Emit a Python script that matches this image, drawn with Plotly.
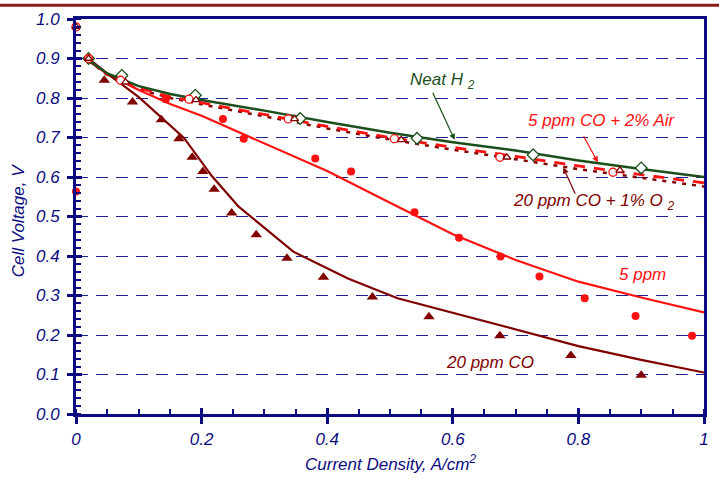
import plotly.graph_objects as go

# ---- model curves (solid / dashed lines) ----
fit_x = [0.02, 0.05, 0.1, 0.15, 0.2, 0.3, 0.4, 0.5, 0.6, 0.7, 0.8, 0.9, 1.0]
neat_h2_fit = [0.895, 0.862, 0.83, 0.81, 0.795, 0.768, 0.739, 0.712, 0.688, 0.667, 0.642, 0.620, 0.600]
co5_air_fit = [0.895, 0.860, 0.825, 0.803, 0.788, 0.758, 0.728, 0.700, 0.675, 0.652, 0.628, 0.606, 0.585]
co20_o2_fit = [0.895, 0.858, 0.822, 0.800, 0.784, 0.754, 0.723, 0.695, 0.669, 0.645, 0.620, 0.598, 0.576]
co5_fit = [0.895, 0.860, 0.820, 0.785, 0.755, 0.685, 0.615, 0.535, 0.455, 0.390, 0.335, 0.295, 0.257]

co20_fit_x = [0.02, 0.05, 0.1, 0.172, 0.216, 0.259, 0.346, 0.433, 0.512, 0.607, 0.7, 0.8, 0.9, 1.0]
co20_fit = [0.900, 0.862, 0.802, 0.699, 0.603, 0.525, 0.411, 0.343, 0.293, 0.253, 0.215, 0.172, 0.137, 0.105]

# ---- measured points ----
neat_h2_x = [0.02, 0.073, 0.19, 0.357, 0.543, 0.728, 0.90]
neat_h2_y = [0.900, 0.857, 0.807, 0.748, 0.698, 0.656, 0.623]

co5_air_x = [0.0, 0.02, 0.071, 0.18, 0.338, 0.507, 0.675, 0.855]
co5_air_y = [0.980, 0.900, 0.845, 0.797, 0.747, 0.697, 0.650, 0.612]

co20_o2_x = [0.0, 0.02, 0.079, 0.191, 0.348, 0.518, 0.686, 0.866]
co20_o2_y = [0.980, 0.900, 0.840, 0.795, 0.747, 0.694, 0.650, 0.617]

co5_x = [0.0, 0.071, 0.143, 0.234, 0.267, 0.381, 0.438, 0.539, 0.61, 0.676, 0.738, 0.81, 0.891, 0.981]
co5_y = [0.563, 0.847, 0.797, 0.747, 0.697, 0.647, 0.614, 0.511, 0.446, 0.399, 0.348, 0.293, 0.248, 0.198]

co20_x = [0.045, 0.09, 0.136, 0.164, 0.185, 0.202, 0.22, 0.248, 0.287, 0.336, 0.394, 0.472, 0.562, 0.675, 0.788, 0.90]
co20_y = [0.845, 0.790, 0.745, 0.697, 0.650, 0.614, 0.569, 0.509, 0.454, 0.394, 0.346, 0.296, 0.246, 0.198, 0.148, 0.098]

x_ticks = [0, 0.2, 0.4, 0.6, 0.8, 1.0]
x_tick_text = ["0", "0.2", "0.4", "0.6", "0.8", "1"]
y_ticks = [0.0, 0.1, 0.2, 0.3, 0.4, 0.5, 0.6, 0.7, 0.8, 0.9, 1.0]
y_tick_text = ["0.0", "0.1", "0.2", "0.3", "0.4", "0.5", "0.6", "0.7", "0.8", "0.9", "1.0"]

NAVY = "#0c0c80"
GREEN = "#1b4f1b"
RED = "#ff1111"
MAROON = "#800000"
FONT = "Liberation Sans, Arial, sans-serif"

fig = go.Figure()

# curves
fig.add_trace(go.Scatter(x=fit_x, y=co20_o2_fit, mode="lines",
                         line=dict(color=MAROON, width=2.5, dash="4px,6px")))
fig.add_trace(go.Scatter(x=fit_x, y=co5_air_fit, mode="lines",
                         line=dict(color=RED, width=2.8, dash="11px,9px")))
fig.add_trace(go.Scatter(x=fit_x, y=co5_fit, mode="lines",
                         line=dict(color=RED, width=2.2)))
fig.add_trace(go.Scatter(x=co20_fit_x, y=co20_fit, mode="lines",
                         line=dict(color=MAROON, width=2.2)))
fig.add_trace(go.Scatter(x=fit_x, y=neat_h2_fit, mode="lines",
                         line=dict(color=GREEN, width=2.5)))

# points
fig.add_trace(go.Scatter(x=co5_x, y=co5_y, mode="markers", cliponaxis=False,
                         marker=dict(symbol="circle", size=8, color=RED)))
fig.add_trace(go.Scatter(x=co20_x, y=co20_y, mode="markers", cliponaxis=False,
                         marker=dict(symbol="triangle-up", size=10, color=MAROON)))
fig.add_trace(go.Scatter(x=neat_h2_x, y=neat_h2_y, mode="markers", cliponaxis=False,
                         marker=dict(symbol="diamond", size=9, color="white",
                                     line=dict(color=GREEN, width=1.3))))
fig.add_trace(go.Scatter(x=co5_air_x, y=co5_air_y, mode="markers", cliponaxis=False,
                         marker=dict(symbol="circle", size=8, color="white",
                                     line=dict(color=RED, width=1.3))))
fig.add_trace(go.Scatter(x=co20_o2_x, y=co20_o2_y, mode="markers", cliponaxis=False,
                         marker=dict(symbol="triangle-up", size=7, color="white",
                                     line=dict(color=MAROON, width=1.3))))

# helper axes carrying the inner half of the major ticks
fig.add_trace(go.Scatter(x=[None], y=[None], xaxis="x2", yaxis="y2", showlegend=False))

tickfont = dict(family=FONT, size=17, color=NAVY, style="italic")

fig.update_layout(
    width=719, height=481,
    margin=dict(l=76, r=10, t=15, b=67),
    paper_bgcolor="white", plot_bgcolor="white",
    showlegend=False,
    xaxis=dict(range=[0, 1], tickvals=x_ticks, ticktext=x_tick_text,
               ticks="outside", ticklen=7, tickwidth=2.5, tickcolor=NAVY,
               showline=True, linecolor=NAVY, linewidth=3, mirror=True,
               showgrid=False, zeroline=False, tickfont=tickfont,
               ticklabelstandoff=1,
               minor=dict(dtick=0.05, ticks="inside", ticklen=5, tickwidth=1.5,
                          tickcolor=NAVY, showgrid=False)),
    yaxis=dict(range=[0, 1], tickvals=y_ticks, ticktext=y_tick_text,
               ticks="outside", ticklen=6, tickwidth=2.5, tickcolor=NAVY,
               showline=True, linecolor=NAVY, linewidth=3, mirror=True,
               showgrid=True, gridcolor="#22228f", gridwidth=1.3,
               griddash="12px,8px", zeroline=False, tickfont=tickfont,
               ticklabelstandoff=4,
               minor=dict(dtick=0.02, ticks="inside", ticklen=5, tickwidth=1.5,
                          tickcolor=NAVY, showgrid=False)),
    xaxis2=dict(range=[0, 1], overlaying="x", anchor="y2", side="bottom",
                tickvals=x_ticks, ticks="inside", ticklen=6, tickwidth=2.5,
                tickcolor=NAVY, showticklabels=False, showgrid=False,
                showline=False, zeroline=False),
    yaxis2=dict(range=[0, 1], overlaying="y", anchor="x2", side="left",
                tickvals=y_ticks, ticks="inside", ticklen=6, tickwidth=2.5,
                tickcolor=NAVY, showticklabels=False, showgrid=False,
                showline=False, zeroline=False),
)

ann_font = dict(family=FONT, size=17, style="italic")

# axis titles
fig.add_annotation(text="Current Density, A/cm<sup>2</sup>", xref="paper", yref="paper",
                   x=0.5, y=-0.123, showarrow=False, xanchor="center", yanchor="middle",
                   font=dict(ann_font, color=NAVY))
fig.add_annotation(text="Cell Voltage, V", xref="paper", yref="paper",
                   x=-0.091, y=0.49, showarrow=False, textangle=-90,
                   xanchor="center", yanchor="middle",
                   font=dict(ann_font, color=NAVY))

# curve labels
fig.add_annotation(text="Neat H <sub>2</sub>", x=0.583, y=0.842, showarrow=False,
                   font=dict(ann_font, color=GREEN))
fig.add_annotation(text="5 ppm CO + 2% Air", x=0.837, y=0.744, showarrow=False,
                   font=dict(ann_font, color=RED))
fig.add_annotation(text="20 ppm CO + 1% O <sub>2</sub>", x=0.825, y=0.536, showarrow=False,
                   font=dict(ann_font, color=MAROON))
fig.add_annotation(text="5 ppm", x=0.902, y=0.353, showarrow=False,
                   font=dict(ann_font, color=RED))
fig.add_annotation(text="20 ppm CO", x=0.660, y=0.130, showarrow=False,
                   font=dict(ann_font, color=MAROON))

# arrows from labels to curves
fig.add_annotation(text="", x=0.603, y=0.694, ax=0.567, ay=0.817,
                   axref="x", ayref="y", showarrow=True, arrowhead=2,
                   arrowsize=1, arrowwidth=1.2, arrowcolor=GREEN)
fig.add_annotation(text="", x=0.831, y=0.637, ax=0.807, ay=0.707,
                   axref="x", ayref="y", showarrow=True, arrowhead=2,
                   arrowsize=1, arrowwidth=1.2, arrowcolor=RED)
fig.add_annotation(text="", x=0.776, y=0.624, ax=0.796, ay=0.554,
                   axref="x", ayref="y", showarrow=True, arrowhead=2,
                   arrowsize=1, arrowwidth=1.2, arrowcolor=MAROON)

# maroon rule along the top edge of the page
fig.add_shape(type="line", xref="paper", yref="paper", x0=-0.13, x1=1.03,
              y0=1.035, y1=1.035, line=dict(color="#8b1c1c", width=3))

fig.write_html("out.html")
